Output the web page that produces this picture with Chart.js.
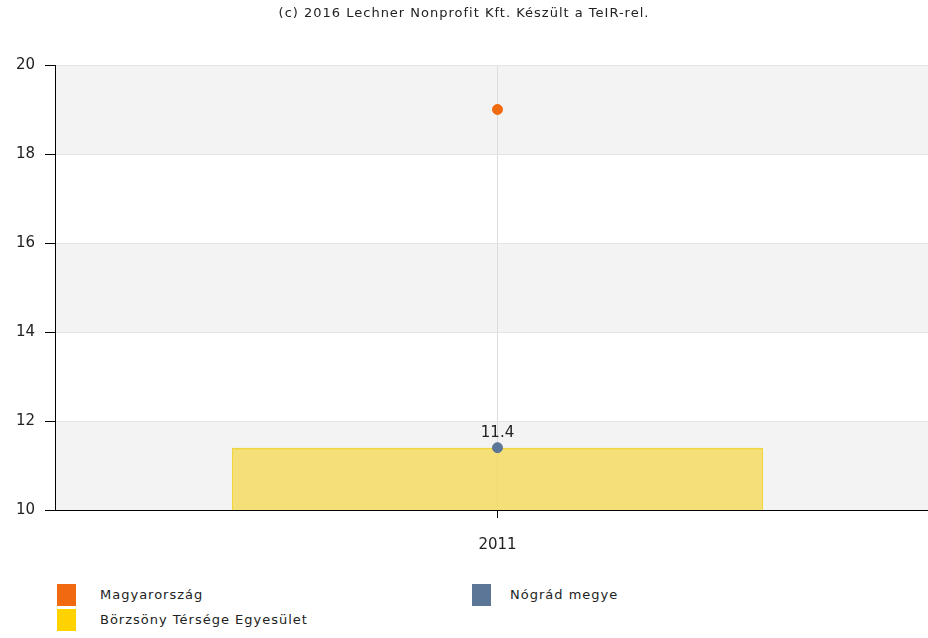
<!DOCTYPE html>
<html>
<head>
<meta charset="utf-8">
<script src="https://cdn.jsdelivr.net/npm/chart.js@4"></script>
<style>
  html, body { margin: 0; padding: 0; background: #fff; overflow: hidden; }
  .wrap { position: relative; width: 946px; height: 565px; }
  .cim { position: absolute; top: 5px; left: 0; width: 928px; text-align: center; font: 13px "DejaVu Sans", Verdana, sans-serif; letter-spacing: 1px; color: #222; }
  .jelmagyarazat { position: absolute; top: 584px; left: 0; width: 928px; font: 13px "DejaVu Sans", Verdana, sans-serif; letter-spacing: 1px; color: #222; }
  .doboz { position: absolute; width: 19px; height: 22px; }
  .szoveg { position: absolute; line-height: 22px; white-space: nowrap; }
</style>
</head>
<body>
<div class="wrap">
  <canvas id="grafikon" width="946" height="565"></canvas>
  <div class="cim">(c) 2016 Lechner Nonprofit Kft. Készült a TeIR-rel.</div>
</div>
<div class="jelmagyarazat" id="jelmagyarazat"></div>

<script>
// adatok
const evek = ['2011'];
const magyarorszag = [19.0];
const nogradMegye = [11.4];
const borzsony = [11.4];
const yTickek = [10, 12, 14, 16, 18, 20];

const szinek = {
    magyarorszag: '#f26a10',
    nograd: '#5b7696',
    borzsony: '#ffd200'
};

const betu = '"DejaVu Sans", Verdana, sans-serif';

/* sávos háttér */
const savok = {
    id: 'savok',
    beforeDraw(chart) {
        const { ctx, chartArea, scales } = chart;
        const y = scales.y;
        ctx.save();
        for (let i = 0; i < yTickek.length - 1; i += 2) {
            const t1 = y.getPixelForValue(yTickek[i + 1]);
            const t0 = y.getPixelForValue(yTickek[i]);
            ctx.fillStyle = '#f3f3f3';
            ctx.fillRect(chartArea.left, t1, chartArea.right - chartArea.left, t0 - t1);
        }
        ctx.restore();
    }
};

/* érték felirat a megyei pont fölött */
const felirat = {
    id: 'felirat',
    afterDatasetsDraw(chart) {
        const { ctx } = chart;
        const meta = chart.getDatasetMeta(1);
        ctx.save();
        ctx.font = '15px ' + betu;
        ctx.fillStyle = '#222';
        ctx.textAlign = 'center';
        ctx.textBaseline = 'bottom';
        meta.data.forEach((pt, i) => {
            ctx.fillText(nogradMegye[i].toFixed(1), pt.x, pt.y - 7);
        });
        ctx.restore();
    }
};

const ctx = document.getElementById('grafikon').getContext('2d');
const grafikon = new Chart(ctx, {
    type: 'bar',
    data: {
        labels: evek,
        datasets: [
            {
                type: 'line',
                label: 'Magyarország',
                data: magyarorszag,
                showLine: false,
                pointRadius: 5,
                pointBackgroundColor: szinek.magyarorszag,
                pointBorderColor: szinek.magyarorszag,
                order: 1
            },
            {
                type: 'line',
                label: 'Nógrád megye',
                data: nogradMegye,
                showLine: false,
                pointRadius: 5,
                pointBackgroundColor: szinek.nograd,
                pointBorderColor: szinek.nograd,
                order: 2
            },
            {
                label: 'Börzsöny Térsége Egyesület',
                data: borzsony,
                backgroundColor: 'rgba(245, 218, 90, 0.8)',
                borderColor: 'rgba(240, 210, 40, 0.9)',
                borderWidth: { top: 2, left: 1, right: 1, bottom: 0 },
                barPercentage: 1,
                categoryPercentage: 0.6,
                order: 3
            }
        ]
    },
    options: {
        responsive: false,
        animation: false,
        layout: { padding: { top: 65, right: 0, left: 0, bottom: 0 } },
        plugins: {
            legend: { display: false },
            tooltip: { enabled: false }
        },
        scales: {
            x: {
                offset: true,
                grid: {
                    offset: false,
                    color: '#dddddd',
                    tickColor: '#000',
                    tickLength: 8
                },
                border: { color: '#000', width: 1 },
                ticks: {
                    color: '#222',
                    font: { family: betu, size: 15 },
                    padding: 18
                },
                afterFit(scale) { scale.height = 55; }
            },
            y: {
                min: 10,
                max: 20,
                afterBuildTicks(scale) {
                    scale.ticks = yTickek.map(v => ({ value: v }));
                },
                grid: {
                    color: '#e4e4e4',
                    tickColor: '#000',
                    tickLength: 10
                },
                border: { color: '#000', width: 1 },
                ticks: {
                    color: '#222',
                    font: { family: betu, size: 15 },
                    padding: 10
                },
                afterFit(scale) { scale.width = 55; }
            }
        }
    },
    plugins: [savok, felirat]
});

// jelmagyarázat
const jelmagyarazat = document.getElementById('jelmagyarazat');
const tetelek = [
    { nev: 'Magyarország', szin: szinek.magyarorszag, dx: 57, tx: 100, y: 0 },
    { nev: 'Nógrád megye', szin: szinek.nograd, dx: 472, tx: 510, y: 0 },
    { nev: 'Börzsöny Térsége Egyesület', szin: szinek.borzsony, dx: 57, tx: 100, y: 25 }
];
tetelek.forEach(t => {
    const d = document.createElement('span');
    d.className = 'doboz';
    d.style.left = t.dx + 'px';
    d.style.top = t.y + 'px';
    d.style.background = t.szin;
    const s = document.createElement('span');
    s.className = 'szoveg';
    s.style.left = t.tx + 'px';
    s.style.top = t.y + 'px';
    s.textContent = t.nev;
    jelmagyarazat.appendChild(d);
    jelmagyarazat.appendChild(s);
});
</script>
</body>
</html>
